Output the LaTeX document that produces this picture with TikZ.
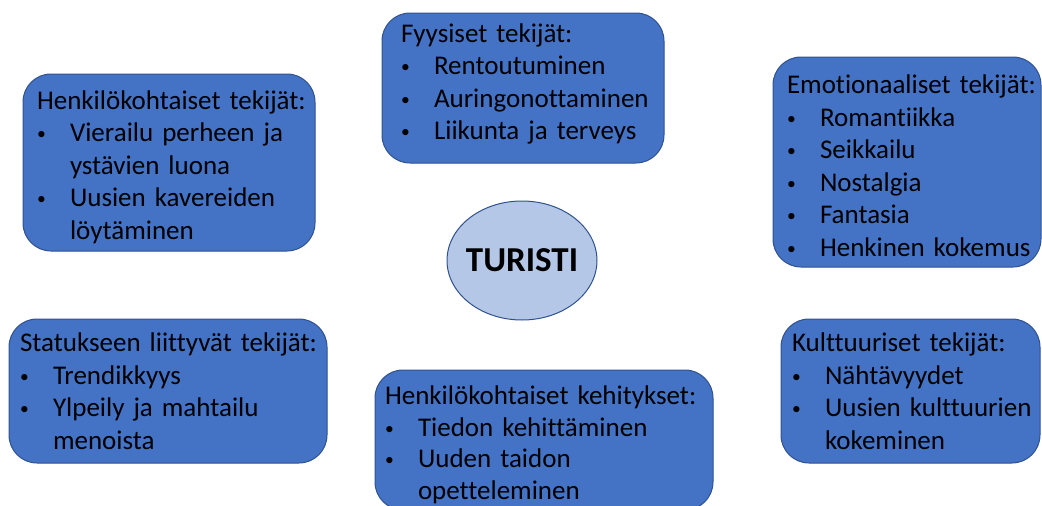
\documentclass[tikz,border=0pt]{standalone}
\usepackage{fontspec}
\setmainfont{Carlito}[Ligatures=NoCommon]
\usetikzlibrary{shapes,positioning}
\definecolor{boxblue}{HTML}{4472C4}
\definecolor{edgeblue}{HTML}{2F528F}
\definecolor{hubblue}{HTML}{B4C7E7}
\newcommand{\pallo}{\raisebox{2pt}{\scalebox{0.65}{\textbullet}}}
\newcommand{\kohta}[1]{\mbox{\makebox[33pt][l]{\pallo}#1}}
\newcommand{\jatko}[1]{\mbox{\hspace*{33pt}#1}}
% struts: \ylos lifts the text, \alas lowers it
\newcommand{\ylos}[1]{\rule[-#1]{0pt}{#1}}
\newcommand{\alas}[1]{\rule{0pt}{#1}}
\begin{document}
\begin{tikzpicture}[x=1pt, y=-1pt, box/.style={draw=edgeblue,line width=1pt,fill=boxblue,rounded corners=28pt,align=left,inner ysep=0pt,font=\fontsize{27}{32.5}\selectfont},hub/.style={ellipse,draw=edgeblue,line width=1pt,fill=hubblue,inner sep=0pt,minimum width=150pt,minimum height=119pt,font=\fontsize{35}{40}\selectfont\bfseries}]
                      \useasboundingbox (0,0) rectangle (1042,506);

                      \node[box,text width=244pt,inner xsep=19pt,minimum height=150pt] (fyys) at (523,88) {\mbox{Fyysiset tekijät:}\\ \kohta{Rentoutuminen}\\ \kohta{Auringonottaminen}\\ \kohta{Liikunta ja terveys}\ylos{13pt}};
                      \node[box,text width=264pt,inner xsep=14pt,minimum height=177pt] (henk) at (169,162.5) {\alas{28pt}\mbox{Henkilökohtaiset tekijät:}\\ \kohta{Vierailu perheen ja}\\ \jatko{ystävien luona}\\ \kohta{Uusien kavereiden}\\ \jatko{löytäminen}};
                      \node[box,text width=240pt,inner xsep=14pt,minimum height=210pt] (emo) at (907,162) {\alas{26pt}\mbox{Emotionaaliset tekijät:}\\ \kohta{Romantiikka}\\ \kohta{Seikkailu}\\ \kohta{Nostalgia}\\ \kohta{Fantasia}\\ \kohta{Henkinen kokemus}};

                      \node[box,text width=296pt,inner xsep=11pt,minimum height=144pt] (stat) at (168,391) {\mbox{Statukseen liittyvät tekijät:}\\ \kohta{Trendikkyys}\\ \kohta{Ylpeily ja mahtailu}\\ \jatko{menoista}};
                      \node[box,text width=318pt,inner xsep=10pt,minimum height=140pt,font=\fontsize{27}{31.5}\selectfont] (kehi) at (544,440) {\alas{28pt}\mbox{Henkilökohtaiset kehitykset:}\\ \kohta{Tiedon kehittäminen}\\ \kohta{Uuden taidon}\\ \jatko{opetteleminen}};
                      \node[box,text width=237pt,inner xsep=11pt,minimum height=144pt] (kult) at (910.5,391) {\mbox{Kulttuuriset tekijät:}\\ \kohta{Nähtävyydet}\\ \kohta{Uusien kulttuurien}\\ \jatko{kokeminen}};

                      \node[hub] (turisti) at (522,260.5) {\makebox[60pt]{TURISTI}};
                    \end{tikzpicture}
\end{document}
